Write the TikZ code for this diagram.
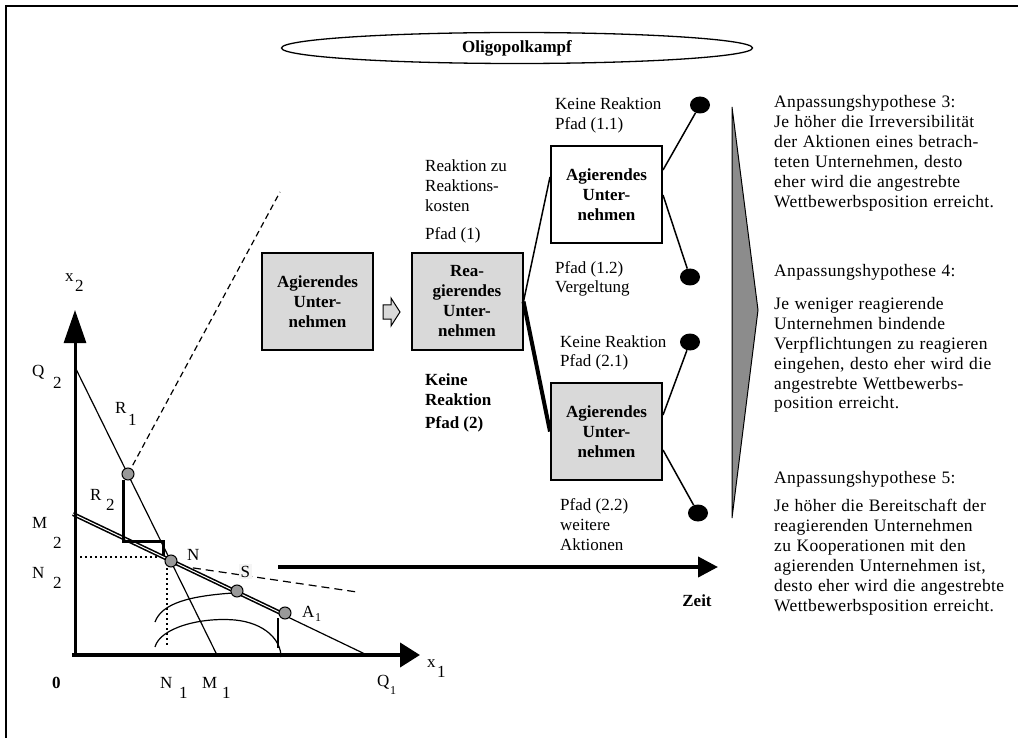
\documentclass[tikz,border=0pt]{standalone}
\usepackage{fontspec}
\setmainfont{Liberation Serif}
\usetikzlibrary{shapes.geometric,arrows.meta}
\definecolor{boxgray}{gray}{0.85}
\definecolor{ptgray}{gray}{0.6}
\definecolor{wedgegray}{gray}{0.55}
% block of left-aligned lines whose reference point is the first baseline
\newcommand\txtblock[1]{\parbox[t]{270pt}{\raggedright #1}}
% slightly looser setting for the hypothesis column
\newcommand\loosetext{\addfontfeature{LetterSpace=2}\spaceskip=5.5pt plus 2pt minus 1pt\relax}

\begin{document}
\begin{tikzpicture}[x=1pt,y=-1pt,
  every node/.style={inner sep=0pt},
  lbl/.style={font=\fontsize{17}{20}\selectfont, anchor=base west},
  hyp/.style={font=\fontsize{17.5}{20}\selectfont\loosetext, anchor=base west},
  blbl/.style={font=\fontsize{17}{20}\selectfont\bfseries, anchor=base west},
  small/.style={font=\fontsize{12}{14}\selectfont, anchor=base west},
  firm/.style={draw, line width=2pt, minimum width=111pt, minimum height=97pt,
    align=center, font=\fontsize{17}{20}\selectfont\bfseries},
  outcome/.style={ellipse, fill=black, minimum width=20pt, minimum height=17pt},
  branch/.style={line width=1.5pt},
  curve/.style={line width=1.2pt},
  marker/.style={circle, draw, fill=ptgray, line width=1pt, minimum size=12pt},
]
\useasboundingbox (0,0) rectangle (1018,738);

% frame
\draw[line width=2pt] (6,738) -- (6,6) -- (1018,6);

% ---------- diagram x1 / x2 ----------
\coordinate (Q2) at (75,367);
\coordinate (M1) at (217,655);
\coordinate (M2) at (73,514);
\coordinate (Q1) at (367,655);
\coordinate (R1) at (128,474);
\coordinate (N)  at (171,561);
\coordinate (S)  at (237,591);
\coordinate (A1) at (285,613);

% indifference curves
\draw[curve] (155,622) .. controls (162,603) and (190,596) .. (233,593);
\draw[curve] (155,647) .. controls (160,628) and (200,617) .. (235,620)
             .. controls (265,623) and (281,640) .. (281,657);
\draw[curve] (278,618) -- (278,648);

% guide lines
\draw[line width=1.5pt, dash pattern=on 2pt off 3pt] (75,557) -- (165,557);
\draw[line width=1.5pt, dash pattern=on 2pt off 3pt] (167,568) -- (167,645);
\draw[line width=1.2pt, dash pattern=on 6pt off 4pt] (R1) -- (280,192);
\draw[line width=1.2pt, dash pattern=on 8pt off 5pt] (180,566) -- (357,592);

% budget lines
\draw[curve] (Q2) -- (M1);
\draw[curve] (M2) -- (Q1);
\draw[line width=1.6pt, double=white, double distance=1pt] (M2) -- (287,616);
\draw[line width=3pt] (123,480) -- (123,541) -- (163,541) -- (163,556);

% axes
\draw[line width=3pt, -{Triangle[length=33pt,width=22pt]}] (75,656) -- (75,310);
\draw[line width=4pt, -{Triangle[length=20pt,width=24pt]}] (72,655) -- (420,655);

% points
\node[marker] (pR) at (R1) {};
\node[marker] (pN) at (N) {};
\node[marker] (pS) at (S) {};
\node[marker] (pA) at (A1) {};

% axis and point labels
\node[lbl] (lx) at (65,282) {x};   \node[lbl] (lx2) at (75,292) {2};
\node[lbl] (lq) at (32,376) {Q};   \node[lbl] (lq2) at (53,388) {2};
\node[lbl] (lr) at (115,413) {R};  \node[lbl] (lr1) at (128,425) {1};
\node[lbl] (ls) at (90,500) {R};   \node[lbl] (ls2) at (106,510) {2};
\node[lbl] (lm) at (32,528) {M};   \node[lbl] (lm2) at (53,548) {2};
\node[lbl] (ln) at (32,578) {N};   \node[lbl] (ln2) at (53,588) {2};
\node[lbl] (lN) at (187,560) {N};
\node[lbl, fill=gray!8, inner sep=1.5pt] (lS) at (239,577) {S};
\node[lbl] (la) at (302,617) {A};  \node[small] (la1) at (315,621) {1};
\node[blbl] (l0) at (52,688) {0};
\node[lbl] (lp) at (160,688) {N};  \node[lbl] (lp1) at (179,698) {1};
\node[lbl] (lk) at (202,688) {M};  \node[lbl] (lk1) at (222,698) {1};
\node[lbl] (lu) at (377,686) {Q};  \node[small] (lu1) at (390,694) {1};
\node[lbl] (lx1) at (427,667) {x}; \node[lbl] (lx11) at (437,677) {1};

% ---------- game tree ----------
\node[draw, ellipse, line width=1.3pt, minimum width=471pt, minimum height=31pt,
  font=\fontsize{17}{20}\selectfont\bfseries] (title) at (517,48) {Oligopolkampf};

\node[firm, fill=boxgray] (act) at (317.5,301.5) {Agierendes\\Unter-\\nehmen};
\node[firm, fill=boxgray] (react) at (467,301.5) {Rea-\\gierendes\\Unter-\\nehmen};
\node[firm, fill=white] (act1) at (606.5,195) {Agierendes\\Unter-\\nehmen};
\node[firm, fill=boxgray] (act2) at (606.5,431.5) {Agierendes\\Unter-\\nehmen};

% block arrow between the first two firms
\draw[fill=boxgray, line width=1pt] (383,305) -- (391,305) -- (391,298) -- (400,312)
  -- (391,326) -- (391,319) -- (383,319) -- cycle;

\node[outcome] (o11) at (700,105) {};
\node[outcome] (o12) at (690,277) {};
\node[outcome] (o21) at (690,342) {};
\node[outcome] (o22) at (698,513) {};

\draw[branch] (react.east) -- ([yshift=18pt]act1.west);
\draw[line width=4pt] (react.east) -- (act2.west);
\draw[branch] ([yshift=25pt]act1.east) -- (o11);
\draw[branch] (act1.east) -- (o12);
\draw[branch] ([yshift=16.5pt]act2.east) -- (o21);
\draw[branch] ([yshift=-18.5pt]act2.east) -- (o22);

\node[lbl] (t1) at (425,172) {\txtblock{Reaktion zu\\Reaktions-\\kosten}};
\node[lbl] (t2) at (425,240) {Pfad (1)};
\node[blbl] (t3) at (425,385) {\txtblock{Keine\\Reaktion}};
\node[blbl] (t4) at (425,428) {Pfad (2)};
\node[lbl] (t5) at (555,110) {\txtblock{Keine Reaktion\\Pfad (1.1)}};
\node[lbl] (t6) at (555,273) {\txtblock{Pfad (1.2)\\Vergeltung}};
\node[lbl] (t7) at (560,347) {\txtblock{Keine Reaktion\\Pfad (2.1)}};
\node[lbl] (t8) at (560,510) {\txtblock{Pfad (2.2)\\weitere\\Aktionen}};

% time axis
\draw[line width=4pt, -{Triangle[length=20pt,width=20pt]}] (278,567) -- (718,567);
\node[blbl, anchor=base] (zeit) at (697,606) {Zeit};

% wedge
\draw[fill=wedgegray, line width=1pt] (732,107) -- (758,310) -- (732,518) -- cycle;

% hypotheses
\node[hyp] (h3) at (774,108) {Anpassungshypothese 3:};
\node[hyp] (b3) at (774,128) {\txtblock{Je höher die Irreversibilität\\der Aktionen eines betrach-\\teten Unternehmen, desto\\eher wird die angestrebte\\Wettbewerbsposition erreicht.}};
\node[hyp] (h4) at (774,277) {Anpassungshypothese 4:};
\node[hyp] (b4) at (774,309) {\txtblock{Je weniger reagierende\\Unternehmen bindende\\Verpflichtungen zu reagieren\\eingehen, desto eher wird die\\angestrebte Wettbewerbs-\\position erreicht.}};
\node[hyp] (h5) at (774,483) {Anpassungshypothese 5:};
\node[hyp] (b5) at (774,511) {\txtblock{Je höher die Bereitschaft der\\reagierenden Unternehmen\\zu Kooperationen mit den\\agierenden Unternehmen ist,\\desto eher wird die angestrebte\\Wettbewerbsposition erreicht.}};
\end{tikzpicture}
\end{document}
